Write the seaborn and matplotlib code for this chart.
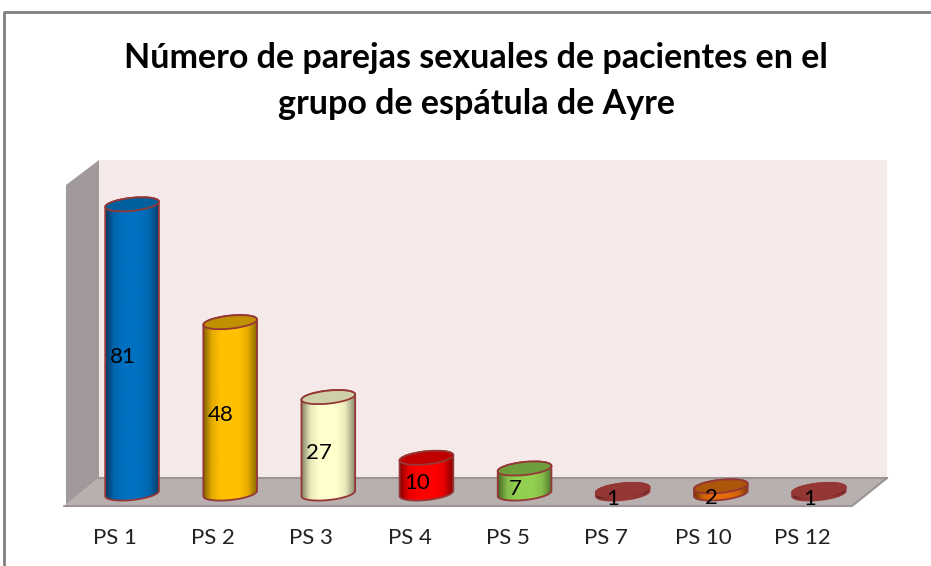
import numpy as np
import pandas as pd
import matplotlib
matplotlib.use("Agg")
import matplotlib.pyplot as plt
import seaborn as sns
from matplotlib.colors import LinearSegmentedColormap, to_rgb
from matplotlib.lines import Line2D
from matplotlib.patches import Ellipse, Polygon
from matplotlib.transforms import IdentityTransform, Affine2D

categorias = ["PS 1", "PS 2", "PS 3", "PS 4", "PS 5", "PS 7", "PS 10", "PS 12"]
valores = [81, 48, 27, 10, 7, 1, 2, 1]
colores = ["#0070C0", "#FFC000", "#FFFFCC", "#FF0000", "#92D050", "#953735", "#E46C0A", "#953735"]
colores_tapa = ["#00609E", "#C09000", "#CFCFA8", "#C00000", "#6E9E3C", "#953735", "#AD5508", "#953735"]
titulo = "Número de parejas sexuales de pacientes en el\ngrupo de espátula de Ayre"

W, H = 931, 566
BORDE = "#953735"
TILT = np.deg2rad(6)
SEMI_B = 6.5
PX_UNIDAD = 3.57
Y_CERO = 493.5


def px(x, y):
    return (x, H - y)


def elipse_pts(cx, cy, a, b, t):
    x = cx + a * np.cos(t) * np.cos(TILT) - b * np.sin(t) * np.sin(TILT)
    y = cy + a * np.cos(t) * np.sin(TILT) + b * np.sin(t) * np.cos(TILT)
    return np.column_stack([x, y])


def add_fondo(fig, puntos, color, edge="none"):
    fig.add_artist(Polygon([px(*p) for p in puntos], closed=True, facecolor=color, edgecolor=edge,
                           linewidth=1.5, transform=IdentityTransform(), zorder=-1))


sns.set_theme(style="white")
plt.rcParams["font.family"] = ["Lato", "DejaVu Sans"]

df = pd.DataFrame({"categoria": categorias, "valor": valores})

fig = plt.figure(figsize=(W / 100, H / 100), dpi=100, facecolor="white")
y_min, y_max = -8, 90
ax = fig.add_axes([83 / W, (H - Y_CERO + y_min * PX_UNIDAD) / H, 785 / W, (y_max - y_min) * PX_UNIDAD / H])
ax.patch.set_alpha(0)

add_fondo(fig, [(99, 160), (887, 160), (887, 478), (99, 478)], "#F5E9E9")
add_fondo(fig, [(66, 185), (99, 160), (99, 478), (66, 505)], "#A29A9A")
add_fondo(fig, [(64, 506), (99, 478), (887, 478), (852, 506)], "#B8AFAF")
fig.add_artist(Line2D([99, 887], [H - 478, H - 478], color="#9A9494", lw=1.5, zorder=-1, transform=IdentityTransform()))
fig.add_artist(Line2D([64, 852, 887], [H - 506, H - 506, H - 478], color="#9A9494", lw=1.5, zorder=-1, transform=IdentityTransform()))
fig.add_artist(Line2D([4, 4, W], [0, H - 12, H - 12], color="#808080", lw=2, transform=IdentityTransform()))

sns.barplot(data=df, x="categoria", y="valor", hue="categoria", palette=colores, width=0.55,
            legend=False, ax=ax)
ax.set_xlim(-0.5, 7.5)
ax.set_ylim(y_min, y_max)

for bar, valor, color, tapa in zip(ax.patches, valores, colores, colores_tapa):
    x0, ancho = bar.get_x(), bar.get_width()
    cx = x0 + ancho / 2
    (xa, y0) = ax.transData.transform((x0, 0))
    (xb, y1) = ax.transData.transform((x0 + ancho, valor))
    a = (xb - xa) / 2
    xc = (xa + xb) / 2

    # cylinder silhouette: lower arc of the base, upper arc of the lid
    base = elipse_pts(xc, y0, a, SEMI_B, np.linspace(np.pi, 2 * np.pi, 40))
    lid = elipse_pts(xc, y1, a, SEMI_B, np.linspace(0, np.pi, 40))
    cuerpo = Polygon(np.vstack([base, lid]), closed=True, facecolor="none", edgecolor=BORDE,
                     linewidth=1.3, transform=IdentityTransform(), zorder=3)
    ax.add_patch(cuerpo)

    rgb = np.array(to_rgb(color))
    cmap = LinearSegmentedColormap.from_list("cil", [rgb * 0.5, rgb * 0.9, rgb, rgb, rgb, rgb * 0.9, rgb * 0.55])
    im = ax.imshow(np.linspace(0, 1, 128)[None, :], cmap=cmap, aspect="auto", interpolation="bilinear",
                   extent=(x0, x0 + ancho, -4, valor + 4), zorder=2)
    im.set_clip_path(cuerpo)
    bar.set_clip_path(cuerpo)

    ax.add_patch(Ellipse((xc, y1), 2 * a, 2 * SEMI_B, angle=np.rad2deg(TILT), facecolor=tapa, edgecolor=BORDE,
                         linewidth=1.3, transform=IdentityTransform(), zorder=4))
    ax.annotate(str(valor), (cx, valor / 2), xytext=(-7, -5.5), textcoords="offset points", ha="center",
                va="center", fontsize=16, color="black", zorder=5)

ax.set_xlim(-0.5, 7.5)
ax.set_ylim(y_min, y_max)
ax.set_xlabel("")
ax.set_ylabel("")
ax.set_yticks([])
ax.tick_params(axis="x", length=0, pad=4, labelsize=16, labelcolor="#222222")
# the category labels sit left of their cylinders in the reference
for etiqueta in ax.get_xticklabels():
    etiqueta.set_transform(etiqueta.get_transform() + Affine2D().translate(-17, 0))
sns.despine(ax=ax, left=True, bottom=True)

fig.text(476 / W, 1 - 81 / H, titulo, ha="center", va="center", fontsize=24.5, fontweight="bold",
         color="black", linespacing=1.55)

fig.savefig("out.png", dpi=100)
